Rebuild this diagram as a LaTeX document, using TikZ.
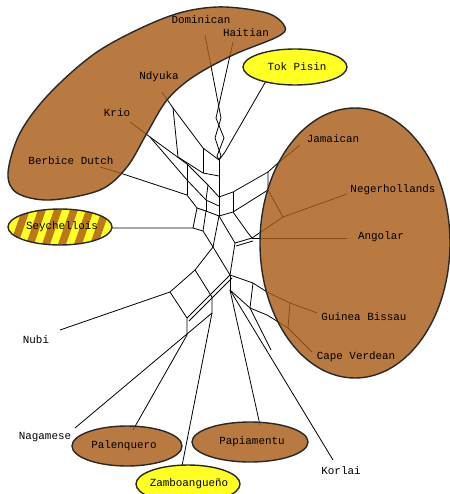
\documentclass[tikz,border=0pt]{standalone}
\usepackage{fontspec}
\setmonofont{Liberation Mono}
\definecolor{creolebrown}{RGB}{168,93,22}
\definecolor{pidginyellow}{RGB}{255,255,34}
\definecolor{stripebrown}{RGB}{186,120,24}
\definecolor{edgegray}{RGB}{40,40,40}
\begin{document}
\begin{tikzpicture}[x=1pt,y=-1pt,
  net/.style={line width=0.8pt, black, line join=round},
  blob/.style={fill=creolebrown, fill opacity=0.82, draw=edgegray, line width=1.4pt},
  pidgin/.style={fill=pidginyellow, draw=edgegray, line width=1.4pt},
  lab/.style={font=\ttfamily\fontsize{10.9}{12}\selectfont, inner sep=0pt, text=black}]
\useasboundingbox (0,0) rectangle (449,494);
% leaf tips
\coordinate (dom) at (205,35);
\coordinate (hai) at (233,42);
\coordinate (tok) at (266,81);
\coordinate (ndy) at (162,92);
\coordinate (kri) at (130,122);
\coordinate (ber) at (100,167);
\coordinate (sey) at (112,228);
\coordinate (jam) at (300,145);
\coordinate (neg) at (347,194);
\coordinate (ang) at (347,238);
\coordinate (gui) at (317,313);
\coordinate (cap) at (312,352);
\coordinate (nub) at (60,330);
\coordinate (nag) at (75,428);
\coordinate (pal) at (133,430);
\coordinate (zam) at (182,466);
\coordinate (pap) at (260,425);
\coordinate (kor) at (333,460);
% ---------- network ----------
% top cluster
\draw[net] (dom) -- (221,118) -- (215,138) -- (221,156) -- (219,160);
\draw[net] (hai) -- (216,118) -- (224,138) -- (217,156) -- (219,160);
\draw[net] (tok) -- (225,152) -- (219,160);
\draw[net] (219,160) -- (219,216);
% Ndyuka
\draw[net] (ndy) -- (173,108) -- (203,148) -- (219,160);
\draw[net] (173,108) -- (178,157) -- (203,173) -- (219,176);
\draw[net] (203,148) -- (203,173);
% Krio
\draw[net] (kri) -- (150,137) -- (187,164) -- (208,185) -- (219,197);
\draw[net] (150,137) -- (187,180) -- (206,200) -- (219,206);
\draw[net] (187,164) -- (187,180);
\draw[net] (208,185) -- (206,200);
% Berbice Dutch
\draw[net] (ber) -- (120,173) -- (187,195) -- (197,208) -- (206,211) -- (219,216);
\draw[net] (187,180) -- (187,195);
\draw[net] (206,200) -- (206,211);
% Seychellois
\draw[net] (sey) -- (193,228) -- (197,208);
\draw[net] (193,228) -- (203,231) -- (213,247);
\draw[net] (206,211) -- (203,231);
% right upper
\draw[net] (219,197) -- (233,192) -- (268,172) -- (278,163) -- (jam);
\draw[net] (219,216) -- (233,212) -- (268,190) -- (268,172);
\draw[net] (233,192) -- (233,212);
\draw[net] (268,190) -- (283,217) -- (neg);
\draw[net] (283,217) -- (252,238);
\draw[net] (233,212) -- (248,233) -- (252,238);
\draw[net] (252,238) -- (ang);
% lower
\draw[net] (219,216) -- (213,247) -- (230,275);
\draw[net] (219,216) -- (235,243) -- (230,275);
\draw[net] (235,243) -- (252,238);
\draw[net] (236,246) -- (253,241);
\draw[net] (213,247) -- (195,270) -- (170,292) -- (nub);
\draw[net] (195,270) -- (212,297) -- (212,313);
\draw[net] (170,292) -- (187,318) -- (187,335);
\draw[net] (230,275) -- (187,318);
\draw[net] (232,278) -- (189,321);
\draw[net] (212,313) -- (nag);
\draw[net] (187,335) -- (pal);
\draw[net] (212,313) -- (zam);
\draw[net] (230,275) -- (230,290);
\draw[net] (230,290) -- (kor);
\draw[net] (230,290) -- (pap);
\draw[net] (230,275) -- (253,283) -- (267,292) -- (290,303) -- (gui);
\draw[net] (230,290) -- (250,308) -- (267,315) -- (288,328) -- (cap);
\draw[net] (253,283) -- (250,308);
\draw[net] (290,303) -- (288,328);
\draw[net] (250,308) -- (271,350);
% ---------- groupings ----------
\draw[blob] plot[smooth cycle, tension=0.55] coordinates {
  (8,173) (20,133) (50,93) (100,50) (167,17) (217,7) (267,13) (285,27)
  (277,37) (233,55) (193,77) (167,100) (147,133) (127,167) (100,190)
  (50,200) (17,193)};
\draw[blob] (355,243) ellipse [x radius=95pt, y radius=135pt];
\draw[blob] (127,446) ellipse [x radius=55pt, y radius=20pt];
\draw[blob] (250,442) ellipse [x radius=58pt, y radius=20pt];
\draw[pidgin] (295,67) ellipse [x radius=52pt, y radius=18pt];
\draw[pidgin] (188,484) ellipse [x radius=52pt, y radius=19pt];
\begin{scope}
  \clip (60,227) ellipse [x radius=52pt, y radius=18pt];
  \fill[pidginyellow] (0,200) rectangle (120,260);
  \foreach \i in {0,...,8} {
    \draw[stripebrown, line width=7.5pt] (\i*16-4,250) -- (\i*16+12,204);
  }
\end{scope}
\draw[edgegray, line width=1.4pt] (60,227) ellipse [x radius=52pt, y radius=18pt];
% ---------- labels ----------
\node[lab] (tDom) at (201,20) {Dominican};
\node[lab] (tHai) at (246,33) {Haitian};
\node[lab] (tTok) at (297,67) {Tok Pisin};
\node[lab] (tNdy) at (159,77) {Ndyuka};
\node[lab] (tKri) at (117,113) {Krio};
\node[lab] (tBer) at (71,161) {Berbice Dutch};
\node[lab] (tJam) at (333,139) {Jamaican};
\node[lab] (tNeg) at (393,190) {Negerhollands};
\node[lab] (tAng) at (381,237) {Angolar};
\node[lab] (tSey) at (62,227) {Seychellois};
\node[lab] (tGui) at (364,317) {Guinea Bissau};
\node[lab] (tCap) at (356,357) {Cape Verdean};
\node[lab] (tNub) at (36,340) {Nubi};
\node[lab] (tNag) at (45,437) {Nagamese};
\node[lab] (tPal) at (124,446) {Palenquero};
\node[lab] (tPap) at (252,442) {Papiamentu};
\node[lab] (tKor) at (341,471) {Korlai};
\node[lab] (tZam) at (189,484) {Zamboangueño};
\end{tikzpicture}
\end{document}
